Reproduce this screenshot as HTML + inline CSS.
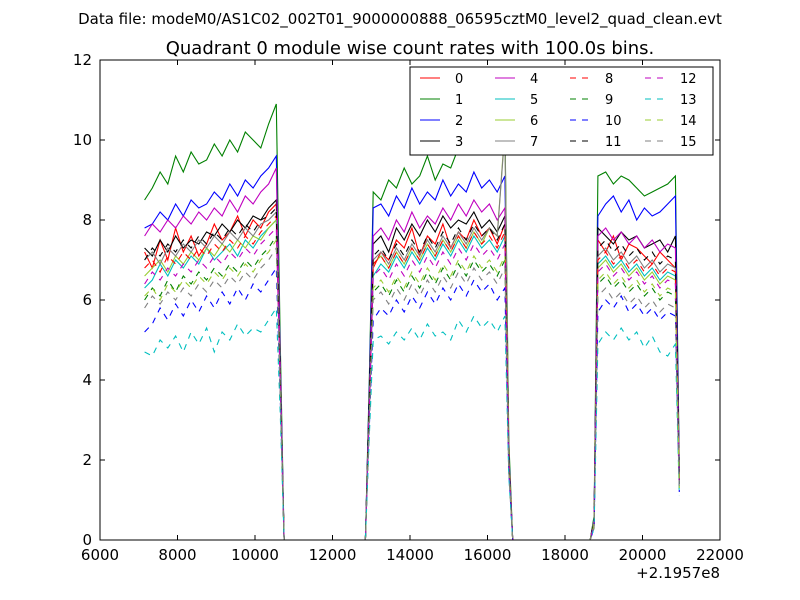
<!DOCTYPE html>
<html><head><meta charset="utf-8"><style>
body{margin:0;background:#fff;}
svg{display:block;font-family:"DejaVu Sans","Liberation Sans",sans-serif;}
</style></head><body>
<svg id="chart" width="800" height="600">
<text x="400" y="24" text-anchor="middle" font-size="15">Data file: modeM0/AS1C02_002T01_9000000888_06595cztM0_level2_quad_clean.evt</text>
<text x="410" y="54" text-anchor="middle" font-size="18">Quadrant 0 module wise count rates with 100.0s bins.</text>
<g id="plot"></g>
</svg>
<script>
const xTimes=[7150,7350,7550,7750,7950,8150,8350,8550,8750,8950,9150,9350,9550,9750,9950,10150,10350,10550,10650,10750,
12850,12950,13050,13250,13450,13650,13850,14050,14250,14450,14650,14850,15050,15250,15450,15650,15850,16050,16250,16450,16550,16650,
18650,18750,18850,19050,19250,19450,19650,19850,20050,20250,20450,20650,20850,20950];
const seriesLabels=["0","1","2","3","4","5","6","7","8","9","10","11","12","13","14","15"];
const xTicks=[6000,8000,10000,12000,14000,16000,18000,20000,22000];
const yTicks=[0,2,4,6,8,10,12];
const s0=[7.2,6.8,7.5,7.0,7.8,7.2,7.6,7.1,7.4,7.9,7.5,7.7,8.1,7.6,8.0,7.8,8.2,8.4,4.0,0, 0,3.5,6.8,7.2,7.0,7.5,7.3,7.8,7.1,7.6,7.4,7.9,7.3,7.7,7.5,8.0,7.6,7.8,7.4,7.9,2.0,0, 0,0.5,7.5,7.2,7.6,7.0,7.4,7.3,7.1,6.9,7.2,7.0,6.8,1.5];
const s1=[8.5,8.8,9.2,8.9,9.6,9.2,9.7,9.4,9.5,9.9,9.6,10.0,9.7,10.2,10.0,9.8,10.4,10.9,5,0, 0,4,8.7,8.5,9.0,8.8,9.3,8.9,9.1,9.6,9.0,9.4,9.3,9.8,9.7,10.0,9.8,10.3,9.9,10.5,2.5,0, 0,0.6,9.1,9.2,8.9,9.1,9.0,8.8,8.6,8.7,8.8,8.9,9.1,1.8];
const s2=[7.8,7.9,8.2,8.0,8.4,8.1,8.5,8.3,8.4,8.7,8.5,8.9,8.6,9.0,8.8,9.1,9.3,9.6,4.5,0, 0,3.8,8.3,8.4,8.1,8.6,8.3,8.8,8.4,8.7,8.5,9.0,8.6,8.9,8.7,9.2,8.8,9.0,8.7,9.1,2.2,0, 0,0.5,8.1,8.4,8.6,8.2,8.5,8.0,8.3,8.1,8.2,8.4,8.6,1.6];
const s3=[7.3,7.1,7.5,7.2,7.6,7.3,7.5,7.4,7.7,7.6,7.9,7.7,8.0,7.8,8.1,8.0,8.3,8.5,4.2,0, 0,3.6,7.4,7.6,7.2,7.8,7.5,7.9,7.6,8.0,7.7,8.1,7.8,8.0,7.9,8.2,7.8,8.0,7.7,8.1,2.1,0, 0,0.5,7.8,7.6,7.4,7.7,7.5,7.6,7.3,7.4,7.5,7.2,7.6,1.5];
const s4=[7.6,7.9,7.7,8.0,7.8,8.1,7.9,8.2,8.0,8.3,8.1,8.5,8.2,8.6,8.4,8.7,8.9,9.3,4.4,0, 0,3.4,7.6,7.8,7.5,8.0,7.7,8.2,7.8,8.1,7.9,8.3,8.0,8.4,8.1,8.5,8.2,8.4,8.0,8.3,2.0,0, 0,0.5,7.6,7.8,7.5,7.7,7.4,7.6,7.3,7.5,7.2,7.4,7.3,1.5];
const s5=[6.3,6.5,6.9,6.6,7.0,6.8,7.1,6.9,7.3,7.0,7.2,7.4,7.1,7.5,7.3,7.6,7.8,8.0,4.0,0, 0,3.3,6.6,6.9,6.7,7.1,6.8,7.2,6.9,7.3,7.0,7.4,7.1,7.5,7.2,7.6,7.3,7.5,7.2,7.6,1.9,0, 0,0.4,6.9,7.1,6.8,7.0,6.7,6.9,6.6,6.8,6.5,6.7,6.6,1.4];
const s6=[6.6,6.8,7.0,6.7,7.1,6.9,7.2,7.0,7.3,7.1,7.4,7.2,7.5,7.3,7.6,7.5,7.8,8.0,4.0,0, 0,3.2,6.9,7.1,6.8,7.2,6.9,7.3,7.0,7.4,7.1,7.5,7.2,7.6,7.3,7.7,7.4,7.8,7.6,10.3,2.0,0, 0,0.4,6.8,7.0,6.7,6.9,6.6,6.8,6.5,6.7,6.4,6.6,6.5,1.4];
const s7=[7.0,7.2,6.9,7.3,7.1,7.4,7.2,7.5,7.3,7.6,7.4,7.7,7.5,7.8,7.6,7.9,8.0,8.2,4.1,0, 0,3.5,7.0,7.2,6.9,7.3,7.0,7.4,7.1,7.5,7.2,7.6,7.3,7.7,7.4,7.8,7.5,7.8,7.6,10.2,2.1,0, 0,0.5,7.1,7.3,7.0,7.2,6.9,7.1,6.8,7.0,6.7,6.9,6.8,1.5];
const s8=[6.8,7.0,6.7,7.1,6.9,7.2,7.0,7.3,7.1,7.4,7.2,7.5,7.3,7.6,7.4,7.7,7.9,8.1,4.0,0, 0,3.4,6.9,7.1,6.8,7.2,6.9,7.3,7.0,7.4,7.1,7.5,7.2,7.6,7.3,7.7,7.4,7.6,7.3,7.7,2.0,0, 0,0.4,7.0,7.2,6.9,7.1,6.8,7.0,6.7,6.9,6.6,6.8,6.7,1.4];
const s9=[6.0,6.3,6.1,6.5,6.2,6.6,6.4,6.7,6.5,6.8,6.6,6.9,6.7,7.0,6.8,7.1,7.3,7.6,3.8,0, 0,3.0,6.2,6.4,6.1,6.5,6.2,6.6,6.3,6.7,6.4,6.8,6.5,6.9,6.6,7.0,6.7,6.9,6.6,7.0,1.8,0, 0,0.4,6.4,6.6,6.3,6.5,6.2,6.4,6.1,6.3,6.0,6.2,6.1,1.3];
const s10=[5.2,5.4,5.8,5.5,5.9,5.6,6.0,5.7,6.1,5.8,6.2,5.9,6.3,6.0,6.4,6.2,6.5,6.8,3.6,0, 0,2.8,5.5,5.8,5.6,6.0,5.7,6.1,5.8,6.2,5.9,6.3,6.0,6.4,6.1,6.5,6.2,6.4,6.0,6.3,1.7,0, 0,0.3,5.7,6.0,5.8,6.1,5.7,5.9,5.6,5.8,5.5,5.7,5.6,1.2];
const s11=[7.0,7.3,7.1,7.4,7.2,7.5,7.3,7.6,7.4,7.7,7.5,7.8,7.6,7.9,7.7,8.0,8.1,8.3,4.1,0, 0,3.5,7.1,7.3,7.0,7.4,7.1,7.5,7.2,7.6,7.3,7.7,7.4,7.8,7.5,7.9,7.6,7.8,7.5,7.9,2.0,0, 0,0.5,7.3,7.5,7.2,7.4,7.1,7.3,7.0,7.2,6.9,7.1,7.0,1.5];
const s12=[6.4,6.7,6.5,6.8,6.6,6.9,6.7,7.0,6.8,7.1,6.9,7.2,7.0,7.3,7.1,7.4,7.6,7.8,3.9,0, 0,3.2,6.6,6.8,6.5,6.9,6.6,7.0,6.7,7.1,6.8,7.2,6.9,7.3,7.0,7.4,7.1,7.3,7.0,7.4,1.9,0, 0,0.4,6.7,6.9,6.6,6.8,6.5,6.7,6.4,6.6,6.3,6.5,6.4,1.4];
const s13=[4.7,4.6,5.0,4.8,5.1,4.7,5.2,4.9,5.3,4.7,5.2,5.0,5.4,5.1,5.3,5.2,5.5,5.8,3.2,0, 0,2.6,5.0,5.1,4.9,5.2,5.0,5.3,5.0,5.4,5.1,5.2,5.0,5.5,5.2,5.6,5.3,5.5,5.2,5.6,1.6,0, 0,0.3,4.9,5.2,5.0,5.3,5.0,5.2,4.8,5.1,4.7,4.6,4.9,1.1];
const s14=[6.1,6.3,6.0,6.4,6.2,6.5,6.3,6.6,6.4,6.7,6.5,6.8,6.6,6.9,6.7,7.0,7.2,7.5,3.8,0, 0,3.0,6.3,6.5,6.2,6.6,6.3,6.7,6.4,6.8,6.5,6.9,6.6,7.0,6.7,7.1,6.8,7.0,6.7,7.1,1.8,0, 0,0.4,6.5,6.7,6.4,6.6,6.3,6.5,6.2,6.4,6.1,6.3,6.2,1.3];
const s15=[5.8,6.1,5.9,6.2,6.0,6.3,6.1,6.4,6.2,6.5,6.3,6.6,6.4,6.7,6.5,6.8,7.0,7.3,3.7,0, 0,2.9,6.0,6.2,5.9,6.3,6.0,6.4,6.1,6.5,6.2,6.6,6.3,6.7,6.4,6.8,6.5,6.7,6.4,6.8,1.7,0, 0,0.3,6.1,6.3,6.0,6.2,5.9,6.1,5.8,6.0,5.7,5.9,5.8,1.2];
const allSeries=[s0,s1,s2,s3,s4,s5,s6,s7,s8,s9,s10,s11,s12,s13,s14,s15];

const NS="http://www.w3.org/2000/svg";
const L=100,R=720,T=60,B=540;
const xMin=6000,xMax=22000,yMin=0,yMax=12;
function sx(v){return L+(v-xMin)/(xMax-xMin)*(R-L);}
function sy(v){return B-(v-yMin)/(yMax-yMin)*(B-T);}
const colors=["#ff0000","#008000","#0000ff","#000000","#bf00bf","#00bfbf","#9acd32","#808080"];
const g=document.getElementById('plot');
function mk(tag,attrs,parent){const e=document.createElementNS(NS,tag);for(const k in attrs)e.setAttribute(k,attrs[k]);(parent||g).appendChild(e);return e;}

// series
allSeries.forEach((vals,i)=>{
  const d=vals.map((v,j)=>(j?'L':'M')+sx(xTimes[j]).toFixed(1)+','+sy(v).toFixed(1)).join('');
  const p=mk('path',{d:d,fill:'none',stroke:colors[i%8],'stroke-width':1.1});
  if(i>=8)p.setAttribute('stroke-dasharray','6,6');
  
  
});

// frame
const fr=mk('rect',{x:L,y:T,width:R-L,height:B-T,fill:'none',stroke:'#000','stroke-width':1});



// ticks
xTicks.forEach(v=>{
  const x=sx(v);
  mk('line',{x1:x,y1:B,x2:x,y2:B-5,stroke:'#000'});
  mk('line',{x1:x,y1:T,x2:x,y2:T+5,stroke:'#000'});
  const t=mk('text',{x:x,y:B+20,'text-anchor':'middle','font-size':15});
  t.textContent=v;
  
  
});
yTicks.forEach(v=>{
  const y=sy(v);
  mk('line',{x1:L,y1:y,x2:L+5,y2:y,stroke:'#000'});
  mk('line',{x1:R,y1:y,x2:R-5,y2:y,stroke:'#000'});
  const t=mk('text',{x:L-8,y:y+5,'text-anchor':'end','font-size':15});
  t.textContent=v;
  
  
});
const off=mk('text',{x:R,y:578,'text-anchor':'end','font-size':15});
off.textContent='+2.1957e8';



// legend
const lg=mk('g',{});


mk('rect',{x:410,y:67,width:303,height:88,fill:'#fff',stroke:'#000','stroke-width':1},lg);
const colX=[420,495,570,645];
seriesLabels.forEach((lab,i)=>{
  const c=Math.floor(i/4),r=i%4;
  const y=78+r*21;
  const x=colX[c];
  const ent=mk('g',{},lg);
  
  
  const ln=mk('line',{x1:x,y1:y,x2:x+20,y2:y,stroke:colors[i%8],'stroke-width':1.1},ent);
  if(i>=8)ln.setAttribute('stroke-dasharray','6,6');
  const t=mk('text',{x:x+35,y:y+5,'font-size':13},ent);
  t.textContent=lab;
});
</script>
</body></html>
